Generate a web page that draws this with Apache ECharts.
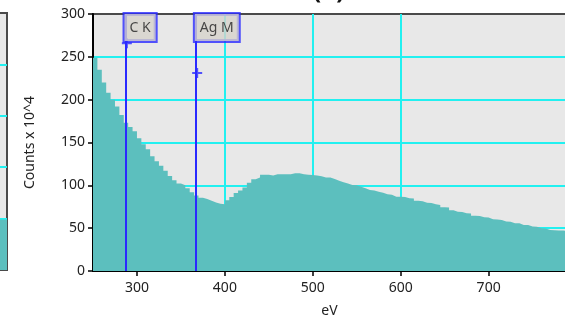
<!DOCTYPE html>
<html>
<head>
<meta charset="utf-8">
<script src="https://cdn.jsdelivr.net/npm/echarts@6/dist/echarts.min.js"></script>
<style>
  html, body { margin: 0; padding: 0; background: #ffffff; }
  #chart { width: 565px; height: 325px; }
</style>
</head>
<body>
<div id="chart"></div>
<script>
// EDS spectrum: 5 eV channels starting at 250 eV, counts in units of 10^4
const binStartEv = 250;
const binWidthEv = 5;
const counts = [
  249, 235, 220, 208, 200, 192, 182, 173, 168, 163,
  155, 148, 142, 134, 128, 123, 117, 111, 106, 102,
  100, 96.5, 92, 88, 85.5, 84, 82, 80, 78.5, 78,
  82.5, 86.5, 91, 94, 97.5, 103, 107, 109, 112.5, 112.5,
  111.5, 113, 113, 113, 113, 114, 114, 113, 112.5, 112,
  111.5, 110.5, 109, 109, 107.4, 105.4, 103.5, 102, 100.4, 100,
  98.4, 96.5, 94.5, 94, 92.6, 91.4, 89.5, 89, 86.7, 86.7,
  86.5, 84.8, 84.5, 82, 81.5, 79.7, 79.5, 77.8, 77, 74.5,
  74, 71, 69.2, 69, 67.3, 67, 64.5, 64.3, 62.6, 62.5,
  60.3, 60, 59.5, 57.8, 57.6, 55.8, 55.6, 53.8, 53.7, 51.8,
  51.7, 49.8, 49.5, 47.8, 47.5, 47.3, 47.2, 47
];
const xTickValues = [300, 400, 500, 600, 700];

// Line markers
const peakNames = ['C K', 'Ag M'];
const peakEnergies = [287, 367];
const peakMarkHeights = [266, 231];

// Right-hand end of the neighbouring panel (a)
const prevPanelStartEv = 773;
const prevPanelCounts = [49, 49, 49];

const FONT = 'Noto Sans';
const TEAL = '#5cbfbe';
const CYAN = '#22f0f0';
const BLUE = '#2a2aff';

function staircase(start, width, values) {
  const pts = values.map((v, i) => [start + i * width, v]);
  pts.push([start + values.length * width, values[values.length - 1]]);
  return pts;
}

const chart = echarts.init(document.getElementById('chart'), null, { renderer: 'canvas' });

const option = {
  animation: false,
  backgroundColor: '#ffffff',
  title: {
    text: '(b)',
    left: 308,
    top: -25,
    textStyle: { fontFamily: FONT, fontSize: 24, fontWeight: 'bold', color: '#111' }
  },
  grid: [
    { left: 93, right: -1, top: 14, bottom: 54, show: true, outerBoundsMode: 'none', containLabel: false,
      backgroundColor: '#e8e8e8', borderColor: '#4a4a4a', borderWidth: 2 },
    { left: -300, right: 558, top: 13, bottom: 55, show: true, outerBoundsMode: 'none', containLabel: false,
      backgroundColor: '#e8e8e8', borderColor: '#4a4a4a', borderWidth: 2 }
  ],
  xAxis: [
    {
      gridIndex: 0, type: 'value', min: 250, max: 788,
      name: 'eV', nameLocation: 'middle', nameGap: 33,
      nameTextStyle: { fontFamily: FONT, fontSize: 14, color: '#222' },
      axisLine: { show: true, onZero: false, lineStyle: { color: '#000', width: 2 } },
      axisTick: { show: true, length: 5, customValues: xTickValues, lineStyle: { color: '#000', width: 1.5 } },
      axisLabel: { customValues: xTickValues, margin: 10, fontFamily: FONT, fontSize: 14, color: '#222' },
      splitLine: { show: true, showMinLine: false, showMaxLine: false, lineStyle: { color: CYAN, width: 2 } }
    },
    {
      gridIndex: 1, type: 'value', min: 250, max: 788, show: false
    }
  ],
  yAxis: [
    {
      gridIndex: 0, type: 'value', min: 0, max: 300, interval: 50,
      name: 'Counts x 10^4', nameLocation: 'middle', nameGap: 56, nameRotate: 90,
      nameTextStyle: { fontFamily: FONT, fontSize: 14, color: '#222' },
      axisLine: { show: true, lineStyle: { color: '#000', width: 2 } },
      axisTick: { show: true, length: 5, lineStyle: { color: '#000', width: 1.5 } },
      axisLabel: { margin: 8, fontFamily: FONT, fontSize: 14, color: '#222' },
      splitLine: { show: true, showMinLine: false, showMaxLine: false, lineStyle: { color: CYAN, width: 2 } }
    },
    {
      gridIndex: 1, type: 'value', min: 0, max: 250, interval: 50,
      axisLine: { show: false }, axisTick: { show: false }, axisLabel: { show: false },
      splitLine: { show: true, showMinLine: false, showMaxLine: false, lineStyle: { color: CYAN, width: 2 } }
    }
  ],
  series: [
    {
      type: 'line', xAxisIndex: 0, yAxisIndex: 0,
      step: 'end', symbol: 'none', silent: true,
      data: staircase(binStartEv, binWidthEv, counts),
      lineStyle: { width: 0 },
      areaStyle: { color: TEAL, opacity: 1 },
      z: 2,
      markLine: {
        silent: true, symbol: ['none', 'none'],
        label: { show: false },
        lineStyle: { color: BLUE, width: 2, type: 'solid' },
        data: peakEnergies.map(e => ({ xAxis: e }))
      }
    },
    {
      type: 'scatter', xAxisIndex: 0, yAxisIndex: 0, clip: false, silent: true,
      symbol: 'path://M4,0H6V4H10V6H6V10H4V6H0V4H4Z',
      symbolSize: 10,
      itemStyle: { color: BLUE },
      data: peakEnergies.map((e, i) => [e + 1.5, peakMarkHeights[i]]),
      z: 5
    },
    {
      type: 'scatter', xAxisIndex: 0, yAxisIndex: 0, clip: false, silent: true,
      symbolSize: 0,
      data: peakEnergies.map((e, i) => ({ value: [e, 300], name: peakNames[i] })),
      label: {
        show: true, position: [-1, 0], formatter: '{b}',
        fontFamily: FONT, fontSize: 14, color: '#222',
        backgroundColor: '#d6d2ca', borderColor: BLUE, borderWidth: 2,
        padding: [7, 5, 6, 5]
      },
      z: 6
    },
    {
      type: 'line', xAxisIndex: 1, yAxisIndex: 1,
      step: 'end', symbol: 'none', silent: true,
      data: staircase(prevPanelStartEv, binWidthEv, prevPanelCounts),
      lineStyle: { width: 0 },
      areaStyle: { color: TEAL, opacity: 1 }
    }
  ]
};

chart.setOption(option);
</script>
</body>
</html>
